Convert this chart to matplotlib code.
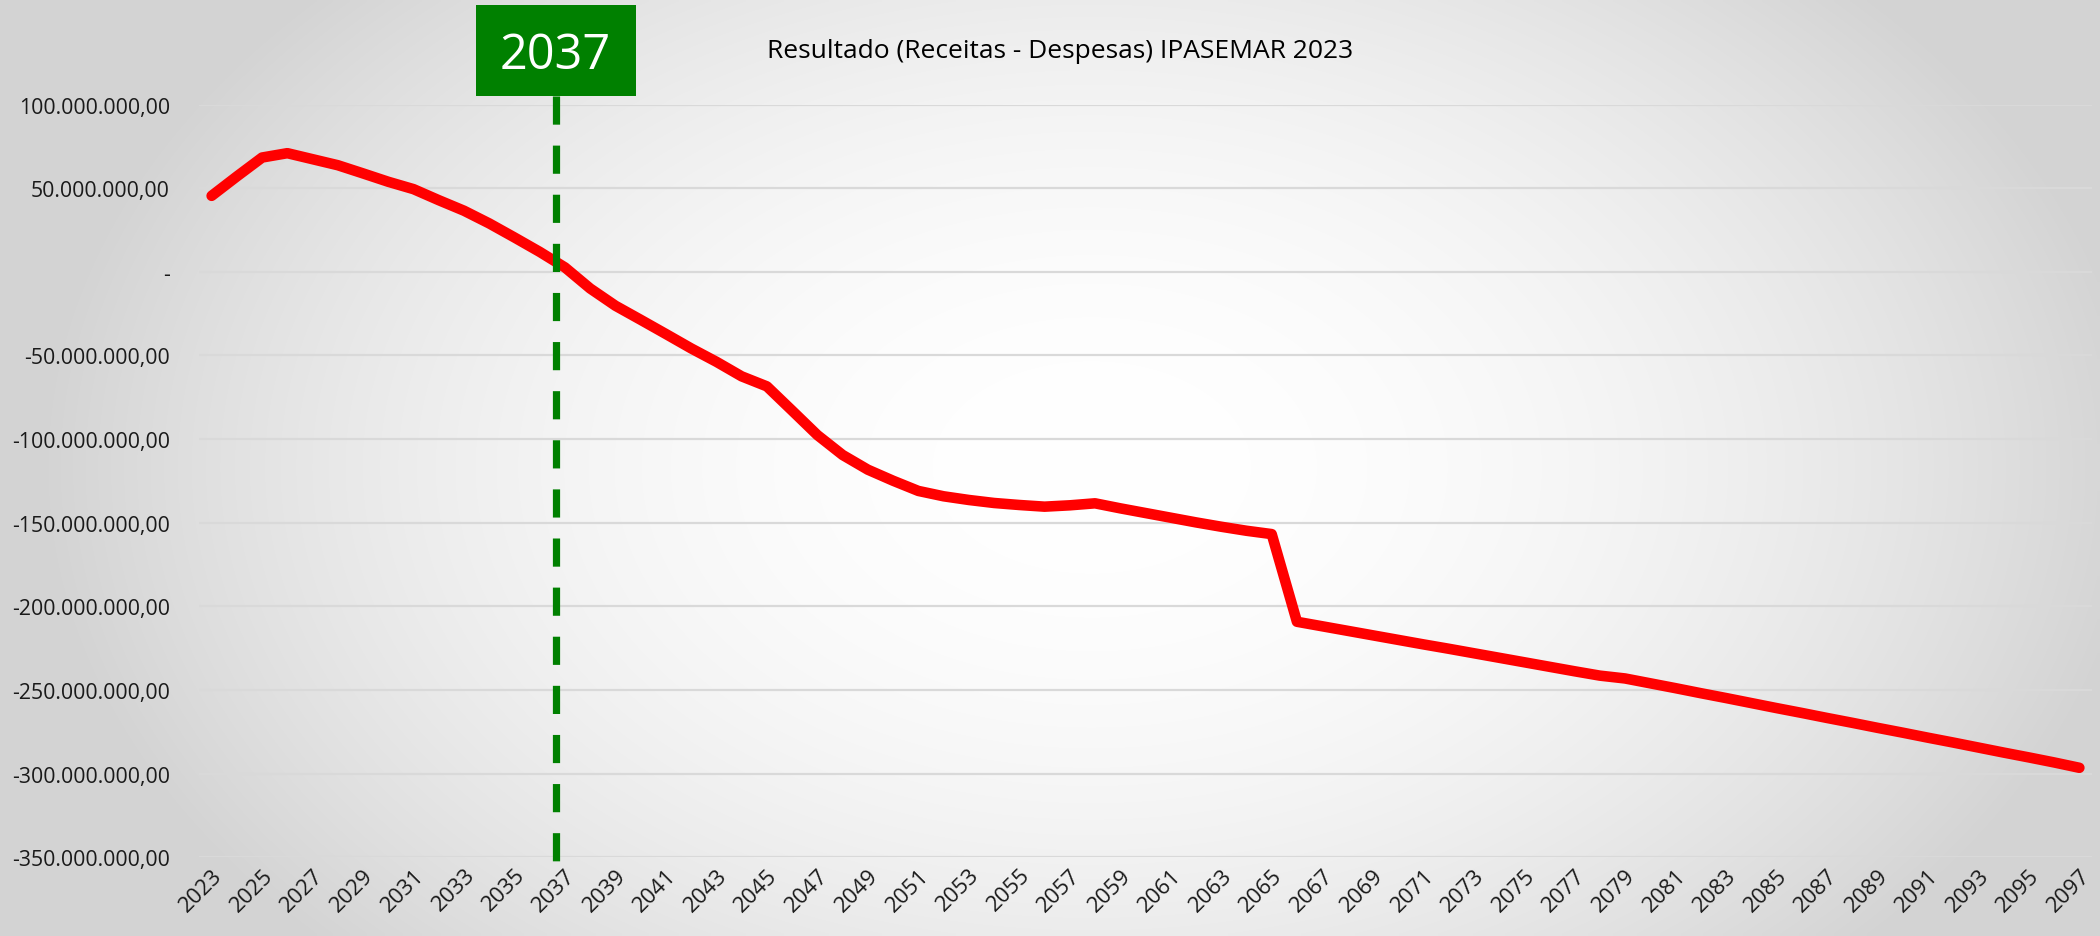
import numpy as np
import matplotlib
matplotlib.use("Agg")
import matplotlib.pyplot as plt
from matplotlib.transforms import blended_transform_factory
from matplotlib.patches import Rectangle

# ---------------- data ----------------
years = list(range(2023, 2098))
resultado_milhoes = [
    45.4, 57.0, 68.3, 70.9, 67.3, 63.7, 58.8, 53.8, 49.4, 42.8,      # 2023-2032
    36.5, 28.9, 20.5, 11.9, 2.6, -10.0, -20.3, -28.7, -37.2, -45.8,  # 2033-2042
    -53.8, -62.5, -68.5, -83.0, -97.6, -109.5, -118.3, -124.9, -131.0, -134.2,  # 2043-2052
    -136.4, -138.2, -139.4, -140.4, -139.6, -138.4, -141.4, -144.2, -147.0, -149.8,  # 2053-2062
    -152.4, -154.8, -156.8, -209.2, -211.9, -214.6, -217.3, -220.0, -222.7, -225.3,  # 2063-2072
    -228.0, -230.7, -233.4, -236.1, -238.8, -241.4, -243.1, -246.0, -248.9, -251.9,  # 2073-2082
    -254.8, -257.8, -260.8, -263.7, -266.7, -269.6, -272.6, -275.5, -278.5, -281.4,  # 2083-2092
    -284.4, -287.4, -290.3, -293.3, -296.5,                                          # 2093-2097
]
y_ticks_milhoes = [100, 50, 0, -50, -100, -150, -200, -250, -300, -350]
y_tick_labels = ["100.000.000,00", "50.000.000,00", "-", "-50.000.000,00",
                 "-100.000.000,00", "-150.000.000,00", "-200.000.000,00",
                 "-250.000.000,00", "-300.000.000,00", "-350.000.000,00"]
x_tick_years = years[::2]
x_tick_labels = [str(y) for y in x_tick_years]
title = "Resultado (Receitas - Despesas) IPASEMAR 2023"
marker_year = 2037
marker_label = "2037"

# ---------------- style ----------------
FONT = "Open Sans"
plt.rcParams["font.family"] = [FONT, "DejaVu Sans"]
W, H, DPI = 2100, 937, 100
TXT = "#1a1a1a"

fig = plt.figure(figsize=(W / DPI, H / DPI), dpi=DPI)

# radial grey-to-white background
bg = fig.add_axes([0, 0, 1, 1], zorder=0)
gx = np.linspace(0, 1, 420)
gy = np.linspace(0, 1, 188)
GX, GY = np.meshgrid(gx, gy)
r2 = ((GX - 0.52) / 0.5) ** 2 + ((GY - 0.5) / 0.75) ** 2
val = 1 - 0.17 * np.clip(r2, 0, 1)
bg.imshow(np.dstack([val, val, val]), aspect="auto", extent=[0, 1, 0, 1],
          interpolation="bilinear")
bg.set_axis_off()

# plot area (pixel geometry of the reference)
left_px, right_px, top_px, bot_px = 199.0, 2092.0, 105.5, 858.3
ax = fig.add_axes([left_px / W, 1 - bot_px / H, (right_px - left_px) / W,
                   (bot_px - top_px) / H], zorder=1)
ax.patch.set_alpha(0)

vals = np.array(resultado_milhoes) * 1e6
ax.plot(years, vals, color="#ff0000", lw=7.6, solid_capstyle="round",
        solid_joinstyle="round", zorder=3)

ax.set_xlim(years[0] - 0.5, years[-1] + 0.5)
ax.set_ylim(y_ticks_milhoes[-1] * 1e6, y_ticks_milhoes[0] * 1e6)
ax.set_yticks(np.array(y_ticks_milhoes) * 1e6)
ax.set_yticklabels(y_tick_labels, fontsize=15.3, color=TXT)
ax.set_xticks(x_tick_years)
ax.set_xticklabels(x_tick_labels, rotation=45, ha="right",
                   rotation_mode="anchor", fontsize=16, color=TXT)
ax.tick_params(axis="y", length=0, pad=21)
ax.tick_params(axis="x", length=0, pad=5)
ax.yaxis.grid(True, color="#d9d9d9", lw=1.6)
ax.set_axisbelow(True)
for s in ax.spines.values():
    s.set_visible(False)

# marker line + box
mx = marker_year - 0.37
trans = blended_transform_factory(ax.transData, fig.transFigure)
box_bottom = 1 - 96.7 / H
box_top = 1 - 6.0 / H
ax.plot([mx, mx], [box_bottom, 1 - 862.0 / H], transform=trans, color="#008000",
        lw=5.2, linestyle=(0, (3.9, 2.9)), dash_capstyle="butt", clip_on=False,
        zorder=4)
yrs_per_px = (years[-1] - years[0] + 1) / (right_px - left_px)
half_w = 80.0 * yrs_per_px
ax.add_patch(Rectangle((mx - half_w, box_bottom), 2 * half_w, box_top - box_bottom,
                       transform=trans, facecolor="#008000", edgecolor="none",
                       clip_on=False, zorder=5))
box_fs = 35
cap_px = 0.714 * box_fs * DPI / 72
box_center = (6.0 + 96.7) / 2
ax.text(mx, 1 - (box_center + cap_px / 2) / H, marker_label, transform=trans,
        ha="center", va="baseline", color="white", fontsize=box_fs, zorder=6)

# title, fitted to reference width
t = fig.text(1060 / W, 1 - 57.5 / H, title, ha="center", va="baseline",
             fontsize=18, color="#000000")
r = fig.canvas.get_renderer()
w = t.get_window_extent(renderer=r).width
t.set_fontsize(18 * 585.0 / w)

fig.savefig("out.png", dpi=DPI)
